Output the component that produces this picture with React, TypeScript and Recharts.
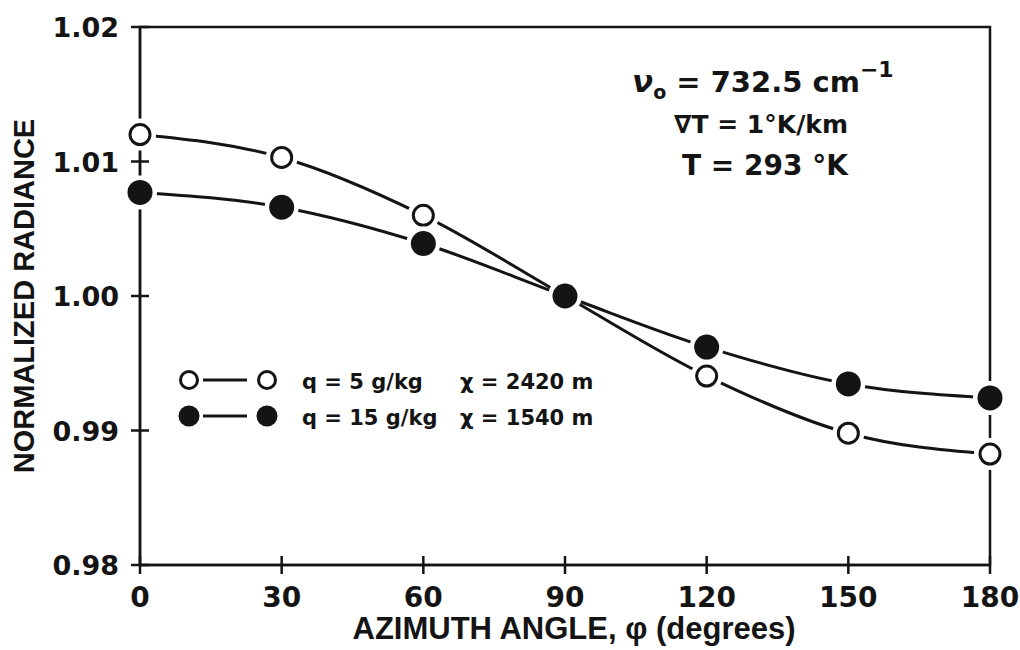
import { Line, LineChart, ReferenceArea, XAxis, YAxis } from "recharts";

// azimuth angle (deg) and normalized radiance for the two humidity cases
const angles = [0, 30, 60, 90, 120, 150, 180];
const radianceQ5 = [1.012, 1.0103, 1.006, 1.0, 0.99405, 0.9898, 0.98825];
const radianceQ15 = [1.0077, 1.0066, 1.0039, 1.0, 0.9962, 0.99346, 0.99242];

const xTicks = [0, 30, 60, 90, 120, 150, 180];
const yTicks = [0.98, 0.99, 1.0, 1.01, 1.02];
const yTickLabels = ["0.98", "0.99", "1.00", "1.01", "1.02"];

const seriesLabels = [
  { q: "q = 5 g/kg", chi: "χ = 2420 m", filled: false },
  { q: "q = 15 g/kg", chi: "χ = 1540 m", filled: true },
];

const data = angles.map((a, i) => ({ angle: a, q5: radianceQ5[i], q15: radianceQ15[i] }));

const INK = "#141414";
const NUM_FONT = "'DejaVu Sans', sans-serif";
const TXT_FONT = "'Liberation Sans', Arial, sans-serif";

function XTick({ x, y, payload }: any) {
  return (
    <g>
      <line x1={x} x2={x} y1={y - 9} y2={y + 9} stroke={INK} strokeWidth={2.5} />
      <text x={x} y={y + 42} textAnchor="middle" fontFamily={NUM_FONT} fontWeight="bold" fontSize={28} fill={INK}>
        {payload.value}
      </text>
    </g>
  );
}

function YTick({ x, y, payload }: any) {
  const label = yTickLabels[yTicks.indexOf(payload.value)] ?? String(payload.value);
  return (
    <g>
      <line x1={x - 9} x2={x + 9} y1={y} y2={y} stroke={INK} strokeWidth={2.5} />
      <text x={x - 21} y={y + 10} textAnchor="end" fontFamily={NUM_FONT} fontWeight="bold" fontSize={27} fill={INK}>
        {label}
      </text>
    </g>
  );
}

function YTitle({ viewBox }: any) {
  const cx = viewBox.x + 24;
  const cy = viewBox.y + viewBox.height / 2;
  return (
    <text
      x={cx}
      y={cy}
      transform={`rotate(-90 ${cx} ${cy})`}
      textAnchor="middle"
      dominantBaseline="central"
      fontFamily={TXT_FONT}
      fontWeight="bold"
      fontSize={29}
      fill={INK}
    >
      NORMALIZED RADIANCE
    </text>
  );
}

// markers sit on a white halo so the curves stop short of them
function OpenDot({ cx, cy, index }: any) {
  return (
    <g key={`o-${index}`}>
      <circle cx={cx} cy={cy} r={16} fill="#fff" />
      <circle cx={cx} cy={cy} r={10} fill="#fff" stroke={INK} strokeWidth={3} />
    </g>
  );
}

function FilledDot({ cx, cy, index }: any) {
  return (
    <g key={`f-${index}`}>
      <circle cx={cx} cy={cy} r={17} fill="#fff" />
      <circle cx={cx} cy={cy} r={12.5} fill={INK} />
    </g>
  );
}

function LegendBox() {
  return (
    <svg width={440} height={80} style={{ position: "absolute", left: 175, top: 362 }}>
      {seriesLabels.map((s, i) => {
        const cy = 18 + i * 36;
        const mark = (cx: number) =>
          s.filled ? (
            <circle cx={cx} cy={cy} r={10.5} fill={INK} />
          ) : (
            <circle cx={cx} cy={cy} r={8.5} fill="#fff" stroke={INK} strokeWidth={3} />
          );
        return (
          <g key={i}>
            <line x1={28} x2={72} y1={cy} y2={cy} stroke={INK} strokeWidth={3} />
            {mark(14)}
            {mark(92)}
            <text x={127} y={cy + 9} fontFamily={NUM_FONT} fontWeight="bold" fontSize={21} fill={INK}>
              {s.q}
            </text>
            <text x={285} y={cy + 9} fontFamily={NUM_FONT} fontWeight="bold" fontSize={21} fill={INK}>
              {s.chi}
            </text>
          </g>
        );
      })}
    </svg>
  );
}

function Annotation() {
  return (
    <svg width={330} height={170} style={{ position: "absolute", left: 620, top: 30 }}>
      <text x={12} y={62} fontFamily={NUM_FONT} fontWeight="bold" fontSize={29} fill={INK}>
        <tspan fontStyle="italic" fontSize={31}>ν</tspan>
        <tspan dy={7} fontSize={19}>o</tspan>
        <tspan dy={-7}> = 732.5 cm</tspan>
        <tspan dy={-15} fontSize={22}>−1</tspan>
      </text>
      <text x={141} y={103} textAnchor="middle" fontFamily={NUM_FONT} fontWeight="bold" fontSize={25} fill={INK}>
        ∇T = 1°K/km
      </text>
      <text x={145} y={145} textAnchor="middle" fontFamily={NUM_FONT} fontWeight="bold" fontSize={28} fill={INK}>
        T = 293 °K
      </text>
    </svg>
  );
}

export default function App() {
  return (
    <div style={{ position: "absolute", left: 0, top: 0, width: 1020, height: 650, background: "#fff" }}>
      <LineChart width={1020} height={650} data={data} margin={{ top: 27, right: 30, bottom: 0, left: 0 }}>
        <XAxis
          dataKey="angle"
          type="number"
          domain={[0, 180]}
          ticks={xTicks}
          height={85}
          tickLine={false}
          tickSize={0}
          tickMargin={0}
          axisLine={{ stroke: INK, strokeWidth: 2.5 }}
          tick={<XTick />}
          label={{
            value: "AZIMUTH ANGLE, φ (degrees)",
            position: "insideBottom",
            offset: 11,
            dx: 9,
            fill: INK,
            fontFamily: TXT_FONT,
            fontWeight: "bold",
            fontSize: 31,
          }}
        />
        <YAxis
          type="number"
          domain={[0.98, 1.02]}
          ticks={yTicks}
          width={140}
          tickLine={false}
          tickSize={0}
          tickMargin={0}
          axisLine={{ stroke: INK, strokeWidth: 2.5 }}
          tick={<YTick />}
          label={<YTitle />}
        />
        <ReferenceArea
          x1={0}
          x2={180}
          y1={0.98}
          y2={1.02}
          fill="none"
          stroke={INK}
          strokeWidth={2.5}
          ifOverflow="visible"
        />
        <Line
          type="monotone"
          dataKey="q5"
          stroke={INK}
          strokeWidth={3}
          dot={OpenDot}
          activeDot={false}
          isAnimationActive={false}
        />
        <Line
          type="monotone"
          dataKey="q15"
          stroke={INK}
          strokeWidth={3}
          dot={FilledDot}
          activeDot={false}
          isAnimationActive={false}
        />
      </LineChart>
      <LegendBox />
      <Annotation />
    </div>
  );
}
